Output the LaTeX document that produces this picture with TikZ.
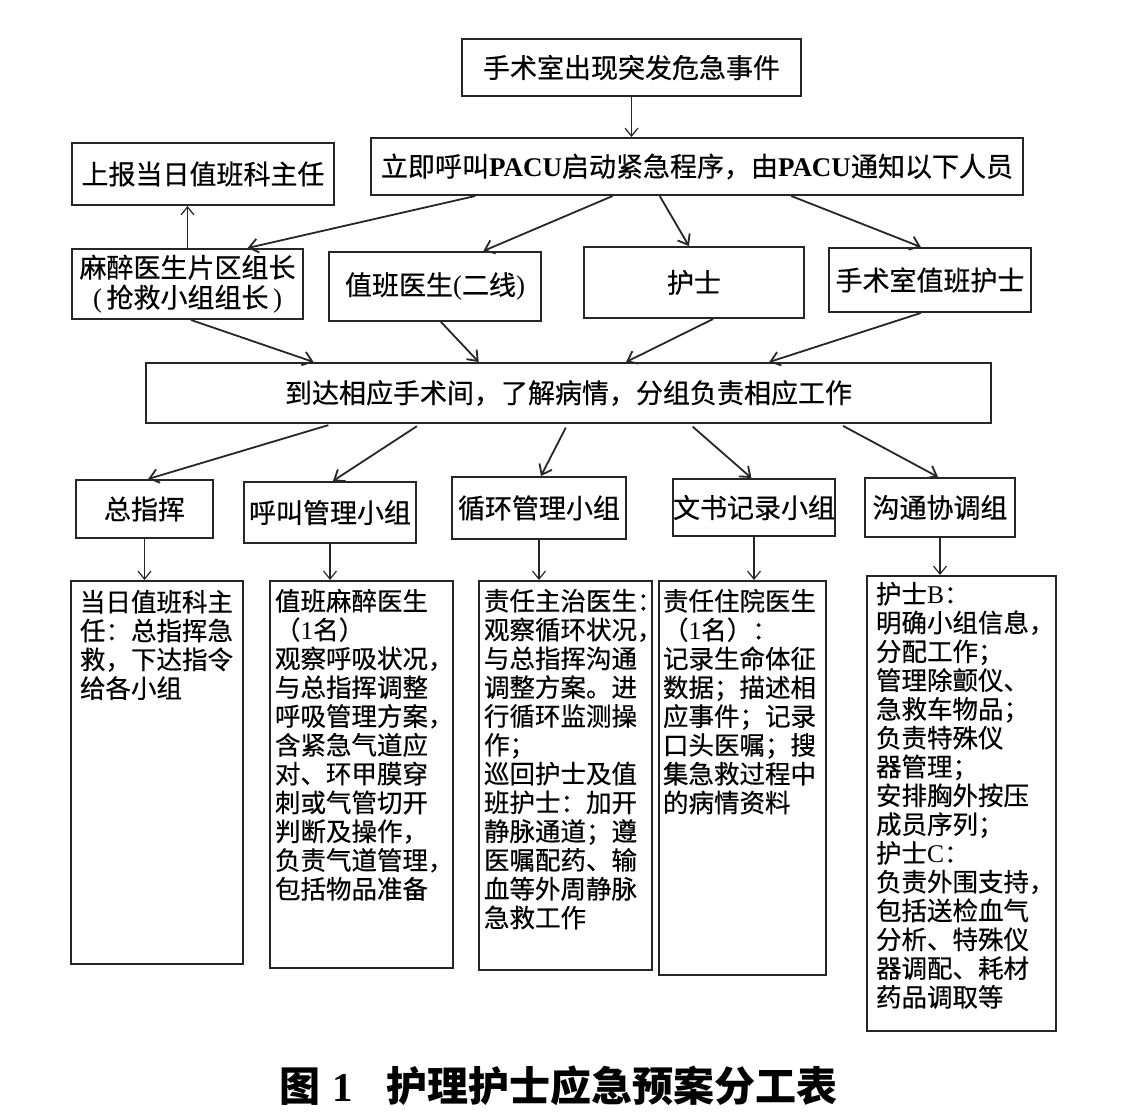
\documentclass[tikz,border=0pt]{standalone}
\usepackage{fontspec}
\setmainfont{Noto Sans CJK SC}[UprightFeatures={FakeBold=0.5}]
\newfontfamily\latn{Liberation Serif}
\usetikzlibrary{arrows.meta,calc}
\newcommand\dtext[5]{\parbox[c][#2pt][t]{#1pt}{\fontsize{25.5}{28.8}\selectfont\raggedright\leftskip=#4pt\vspace*{#5pt}#3}}
\begin{document}
\begin{tikzpicture}[x=1pt,y=-1pt,
  bx/.style={draw=black!85,line width=2pt,inner sep=0pt,anchor=north west,align=center,font=\fontsize{27}{30}\selectfont},
  dbox/.style={draw=black!85,line width=2pt,inner sep=0pt,anchor=north west},
  arr/.style={-{Straight Barb[length=9pt,width=14pt]},line width=1.8pt,black!85},
  tarr/.style={-{Straight Barb[length=8pt,width=13pt]},line width=1.2pt,black!85}]
\useasboundingbox (0,0) rectangle (1135,1118);
% rows 1-2
\node[bx,minimum width=339,minimum height=57] (top) at (461,38) {手术室出现突发危急事件};
\node[bx,minimum width=652,minimum height=57] (pacu) at (370,137) {立即呼叫{\latn\bfseries PACU}启动紧急程序，由{\latn\bfseries PACU}通知以下人员};
\node[bx,minimum width=262,minimum height=62] (report) at (71,142) {上报当日值班科主任};
% row 3
\node[bx,minimum width=231,minimum height=70] (r1) at (71,248) {麻醉医生片区组长\\{\latn(\,}抢救小组组长{\,\latn)}};
\node[bx,minimum width=212,minimum height=69] (r2) at (328,251) {值班医生{\latn(}二线{\latn)}};
\node[bx,minimum width=220,minimum height=71] (r3) at (583,246) {护士};
\node[bx,minimum width=202,minimum height=64] (r4) at (828,247) {手术室值班护士};
% row 4
\node[bx,minimum width=845,minimum height=60] (mid) at (145,362) {到达相应手术间，了解病情，分组负责相应工作};
% row 5
\node[bx,minimum width=137,minimum height=58] (g1) at (75,479) {总指挥};
\node[bx,minimum width=172,minimum height=61] (g2) at (243,481) {呼叫管理小组};
\node[bx,minimum width=174,minimum height=62] (g3) at (451,476) {循环管理小组};
\node[bx,minimum width=161,minimum height=57] (g4) at (672,478) {文书记录小组};
\node[bx,minimum width=150,minimum height=59] (g5) at (864,477) {沟通协调组};
% detail boxes
\node[dbox] (d1) at (70,580) {\dtext{172}{383}{当日值班科主\\任：总指挥急\\救，下达指令\\给各小组}{9}{9}};
\node[dbox] (d2) at (269,580) {\dtext{183}{387}{值班麻醉医生\\（{\latn 1}名）\\观察呼吸状况，\\与总指挥调整\\呼吸管理方案，\\含紧急气道应\\对、环甲膜穿\\刺或气管切开\\判断及操作，\\负责气道管理，\\包括物品准备}{5}{8}};
\node[dbox] (d3) at (478,580) {\dtext{173}{389}{责任主治医生：\\观察循环状况，\\与总指挥沟通\\调整方案。进\\行循环监测操\\作；\\巡回护士及值\\班护士：加开\\静脉通道；遵\\医嘱配药、输\\血等外周静脉\\急救工作}{5}{8}};
\node[dbox] (d4) at (658,580) {\dtext{167}{394}{责任住院医生\\（{\latn 1}名）：\\记录生命体征\\数据；描述相\\应事件；记录\\口头医嘱；搜\\集急救过程中\\的病情资料}{4}{8}};
\node[dbox] (d5) at (866,575) {\dtext{189}{455}{护士{\latn B}：\\明确小组信息，\\分配工作；\\管理除颤仪、\\急救车物品；\\负责特殊仪\\器管理；\\安排胸外按压\\成员序列；\\护士{\latn C}：\\负责外围支持，\\包括送检血气\\分析、特殊仪\\器调配、耗材\\药品调取等}{9}{6}};
% caption
\node[anchor=west,inner sep=0pt,font=\fontsize{41}{45}\selectfont\bfseries] (cap) at (279,1086) {图\hspace{12pt}{\latn 1}\hspace{34pt}护理护士应急预案分工表};
% arrows
\draw[tarr] (top.south) -- (top.south |- pacu.north);
\draw[tarr] (r1.north) -- (r1.north |- report.south);
\draw[arr] ($(pacu.south west)!0.161!(pacu.south east)$) -- ($(r1.north west)!0.758!(r1.north east)$);
\draw[arr] ($(pacu.south west)!0.371!(pacu.south east)$) -- ($(r2.north west)!0.726!(r2.north east)$);
\draw[arr] ($(pacu.south west)!0.443!(pacu.south east)$) -- ($(r3.north west)!0.477!(r3.north east)$);
\draw[arr] ($(pacu.south west)!0.644!(pacu.south east)$) -- ($(r4.north west)!0.455!(r4.north east)$);
\draw[arr] ($(r1.south west)!0.515!(r1.south east)$) -- ($(mid.north west)!0.199!(mid.north east)$);
\draw[arr] ($(r2.south west)!0.528!(r2.south east)$) -- ($(mid.north west)!0.394!(mid.north east)$);
\draw[arr] ($(r3.south west)!0.586!(r3.south east)$) -- ($(mid.north west)!0.568!(mid.north east)$);
\draw[arr] ($(r4.south west)!0.455!(r4.south east)$) -- ($(mid.north west)!0.737!(mid.north east)$);
\draw[arr,shorten <=4pt] ($(mid.south west)!0.221!(mid.south east)$) -- ($(g1.north west)!0.526!(g1.north east)$);
\draw[arr,shorten <=4pt] ($(mid.south west)!0.325!(mid.south east)$) -- ($(g2.north west)!0.517!(g2.north east)$);
\draw[arr,shorten <=4pt] ($(mid.south west)!0.499!(mid.south east)$) -- ($(g3.north west)!0.511!(g3.north east)$);
\draw[arr,shorten <=4pt] ($(mid.south west)!0.643!(mid.south east)$) -- ($(g4.north west)!0.484!(g4.north east)$);
\draw[arr,shorten <=4pt] ($(mid.south west)!0.820!(mid.south east)$) -- ($(g5.north west)!0.487!(g5.north east)$);
\draw[tarr] (g1.south) -- (g1.south |- d1.north);
\draw[tarr] (g2.south) -- (g2.south |- d2.north);
\draw[tarr] (g3.south) -- (g3.south |- d3.north);
\draw[tarr] (g4.south) -- (g4.south |- d4.north);
\draw[tarr] (g5.south) -- (g5.south |- d5.north);
\end{tikzpicture}
\end{document}
